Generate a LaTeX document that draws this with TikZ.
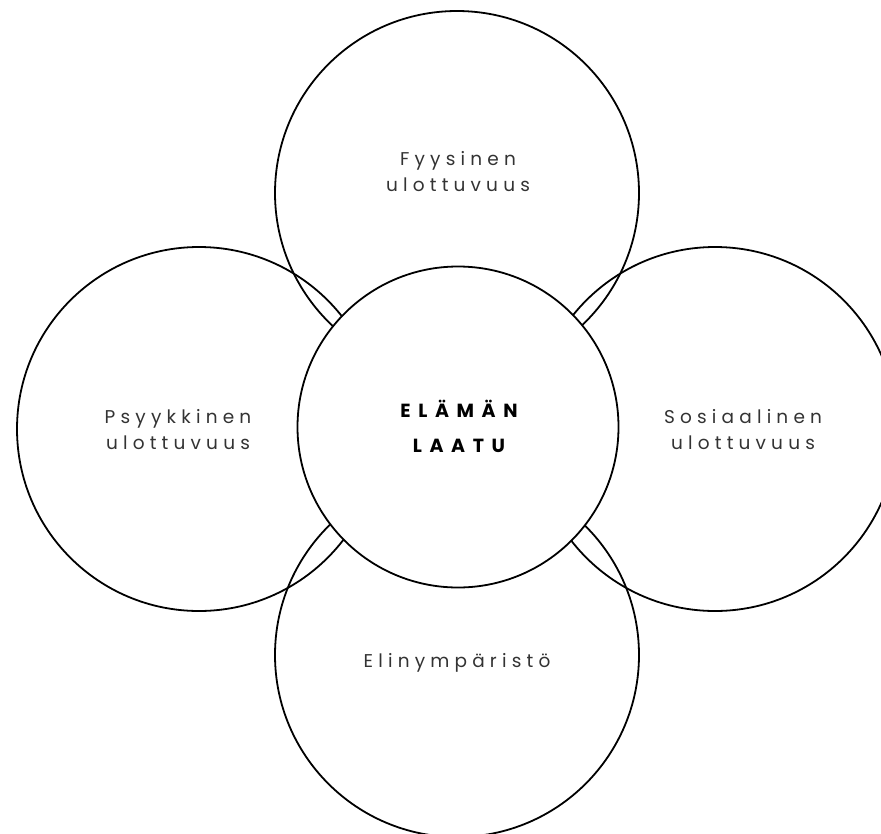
\documentclass[tikz,border=0pt]{standalone}
\usepackage{fontspec}
\setmainfont{Poppins}
\newfontfamily\lblfont[LetterSpace=28]{Poppins}
\newfontfamily\ctrfont[LetterSpace=40]{Poppins}
\definecolor{txtgray}{HTML}{333333}
\begin{document}
\begin{tikzpicture}[x=1pt,y=-1pt,
  outer/.style={circle,draw=black,line width=1.8pt,minimum size=364pt,inner sep=0pt},
  center/.style={circle,draw=black,fill=white,line width=1.8pt,minimum size=321pt,inner sep=0pt},
  lbl/.style={align=center,text=txtgray,font=\lblfont\fontsize{18.5}{26}\selectfont},
  ctr/.style={align=center,text=black,font=\ctrfont\bfseries\fontsize{19}{35}\selectfont}]
\useasboundingbox (0,0) rectangle (881,833);
\clip (0,0) rectangle (881,833);
\node[outer] (top) at (457,193) {};
\node[outer] (left) at (199,429) {};
\node[outer] (right) at (715,429) {};
\node[outer] (bottom) at (457,655) {};
\node[center] (mid) at (458,427) {};
\node[lbl] (ltop) at (458,172) {Fyysinen\\ulottuvuus};
\node[lbl] (lleft) at (178,430) {Psyykkinen\\ulottuvuus};
\node[lbl] (lright) at (743,430) {Sosiaalinen\\ulottuvuus};
\node[lbl] (lbottom) at (457,663) {Elinympäristö};
\node[ctr] (lmid) at (459,426) {ELÄMÄN\\LAATU};
\end{tikzpicture}
\end{document}
